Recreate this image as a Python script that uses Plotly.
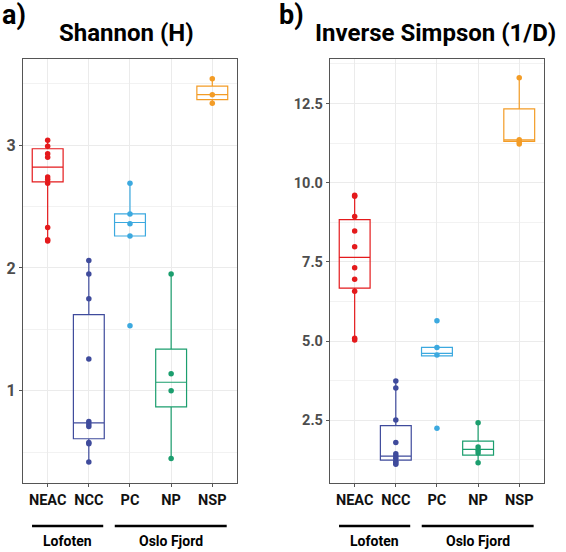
import plotly.graph_objects as go

categories = ["NEAC", "NCC", "PC", "NP", "NSP"]
colors = ["#E41A1C", "#3F4B9C", "#3CA9DF", "#1B9E6E", "#F39C26"]

# Shannon (H) sample values
shannon_points = {
    "NEAC": [3.04, 2.99, 2.93, 2.90, 2.74, 2.72, 2.69, 2.33, 2.23, 2.22],
    "NCC": [2.06, 1.95, 1.75, 1.26, 0.75, 0.73, 0.71, 0.58, 0.57, 0.42],
    "PC": [2.69, 2.44, 2.36, 2.26, 1.53],
    "NP": [1.95, 1.14, 1.00, 0.45],
    "NSP": [3.54, 3.41, 3.34],
}
shannon_q1 = [2.70, 0.61, 2.26, 0.87, 3.37]
shannon_median = [2.82, 0.74, 2.37, 1.07, 3.41]
shannon_q3 = [2.97, 1.62, 2.44, 1.34, 3.48]
shannon_low = [2.22, 0.42, 2.26, 0.45, 3.34]
shannon_high = [3.04, 2.06, 2.69, 1.95, 3.54]

# Inverse Simpson (1/D) sample values
invsimp_points = {
    "NEAC": [9.60, 9.57, 8.93, 8.47, 7.98, 7.31, 6.95, 6.57, 5.09, 5.03],
    "NCC": [3.74, 3.52, 2.51, 1.80, 1.44, 1.37, 1.30, 1.21, 1.16, 1.11],
    "PC": [5.64, 4.80, 4.56, 2.25],
    "NP": [2.42, 1.66, 1.55, 1.47, 1.16],
    "NSP": [13.31, 11.35, 11.28, 11.22],
}
invsimp_q1 = [6.67, 1.24, 4.53, 1.40, 11.30]
invsimp_median = [7.64, 1.37, 4.61, 1.58, 11.35]
invsimp_q3 = [8.83, 2.33, 4.80, 1.84, 12.33]
invsimp_low = [5.03, 1.11, 4.53, 1.16, 11.22]
invsimp_high = [9.60, 3.74, 4.80, 2.42, 13.31]

group_names = ["Lofoten", "Oslo Fjord"]

FONT = "Roboto, Open Sans, sans-serif"

fig = go.Figure()


def add_panel(points, q1, med, q3, low, high, xa, ya):
    for i, c in enumerate(categories):
        fig.add_trace(go.Box(
            x=[c], q1=[q1[i]], median=[med[i]], q3=[q3[i]],
            lowerfence=[low[i]], upperfence=[high[i]],
            xaxis=xa, yaxis=ya, width=0.75, whiskerwidth=0,
            line=dict(color=colors[i], width=1.2),
            fillcolor="rgba(255,255,255,0)", boxpoints=False,
            showlegend=False, hoverinfo="skip",
        ))
        vals = points[c]
        fig.add_trace(go.Scatter(
            x=[c] * len(vals), y=vals, mode="markers",
            marker=dict(color=colors[i], size=5.5),
            xaxis=xa, yaxis=ya, showlegend=False,
        ))


add_panel(shannon_points, shannon_q1, shannon_median, shannon_q3,
          shannon_low, shannon_high, "x", "y")
add_panel(invsimp_points, invsimp_q1, invsimp_median, invsimp_q3,
          invsimp_low, invsimp_high, "x2", "y2")

axis_common = dict(
    showline=True, mirror=True, linecolor="#555555", linewidth=1.3,
    showgrid=True, gridcolor="#EBEBEB", gridwidth=1,
    ticks="outside", ticklen=3, tickcolor="#555555", zeroline=False,
)

xcommon = dict(axis_common, type="category", categoryorder="array",
               categoryarray=categories, range=[-0.6, 4.6],
               tickfont=dict(family=FONT, size=14.5, color="#111111",
                             weight="bold"))
yfont = dict(family=FONT, size=16, color="#4d4d4d", weight="bold")

fig.update_layout(
    width=566, height=552,
    margin=dict(l=0, r=0, t=0, b=0),
    paper_bgcolor="white", plot_bgcolor="white",
    font=dict(family=FONT),
    xaxis=dict(xcommon, domain=[0.0406, 0.4187], anchor="y"),
    yaxis=dict(axis_common, domain=[0.125, 0.893], anchor="x",
               range=[0.25, 3.70], tickvals=[1, 2, 3],
               minor=dict(tickvals=[0.5, 1.5, 2.5, 3.5], showgrid=True,
                          gridcolor="#F2F2F2", ticks=""),
               tickfont=yfont),
    xaxis2=dict(xcommon, domain=[0.583, 0.961], anchor="y2"),
    yaxis2=dict(axis_common, domain=[0.125, 0.893], anchor="x2",
                range=[0.52, 13.90], tickvals=[2.5, 5.0, 7.5, 10.0, 12.5],
                ticktext=["2.5", "5.0", "7.5", "10.0", "12.5"],
                minor=dict(tickvals=[1.25, 3.75, 6.25, 8.75, 11.25, 13.75],
                           showgrid=True, gridcolor="#F2F2F2", ticks=""),
                tickfont=dict(yfont, size=14.5)),
)

# titles and panel letters
title_font = dict(family=FONT, size=24, color="black", weight="bold")
fig.add_annotation(text="Shannon (H)", x=0.223, y=0.941, xref="paper",
                   yref="paper", showarrow=False, xanchor="center",
                   yanchor="middle", font=title_font)
fig.add_annotation(text="Inverse Simpson (1/D)", x=0.770, y=0.941,
                   xref="paper", yref="paper", showarrow=False,
                   xanchor="center", yanchor="middle", font=title_font)
letter_font = dict(family=FONT, size=27, color="black", weight="bold")
fig.add_annotation(text="a)", x=0.0, y=0.973, xref="paper", yref="paper",
                   showarrow=False, xanchor="left", yanchor="middle",
                   font=letter_font)
fig.add_annotation(text="b)", x=0.489, y=0.973, xref="paper", yref="paper",
                   showarrow=False, xanchor="left", yanchor="middle",
                   font=letter_font)

# group brackets under the x axis
group_spans = [(-0.38, 1.35), (1.63, 4.35)]
group_font = dict(family=FONT, size=14, color="black", weight="bold")
for xa in ["x", "x2"]:
    for name, (a, b) in zip(group_names, group_spans):
        fig.add_shape(type="line", xref=xa, yref="paper", x0=a, x1=b,
                      y0=1 - 526 / 552, y1=1 - 526 / 552,
                      line=dict(color="black", width=2.5))
        fig.add_annotation(text=name, xref=xa, yref="paper",
                           x=(a + b) / 2, y=1 - 541 / 552, showarrow=False,
                           xanchor="center", yanchor="middle", font=group_font)

fig.write_html("out.html", config={"displayModeBar": False},
               post_script="document.body.style.margin='0';")
